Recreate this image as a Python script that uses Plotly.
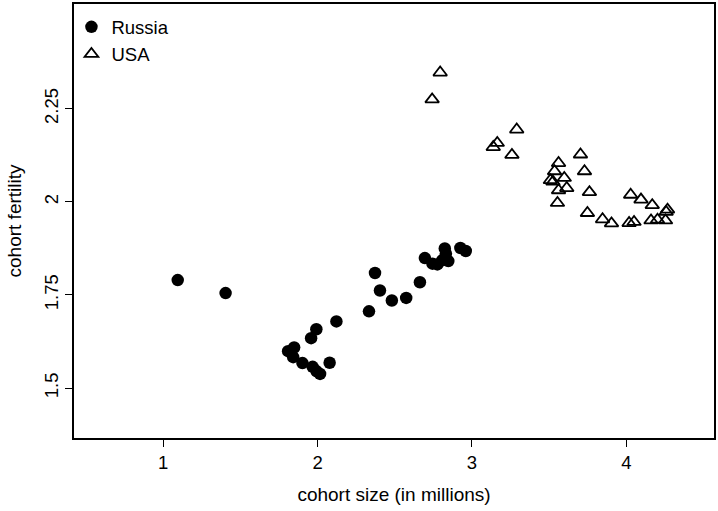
import plotly.graph_objects as go

# Cohort size (millions) and completed cohort fertility
russia_size = [1.094, 1.404, 2.372, 2.404, 2.481, 2.574, 2.663, 2.333, 2.122,
               1.992, 1.958, 1.848, 1.809, 1.842, 1.902, 1.968, 1.994, 2.016,
               2.078, 2.695, 2.744, 2.776, 2.807, 2.824, 2.831, 2.847, 2.925,
               2.960]
russia_fert = [1.790, 1.755, 1.809, 1.762, 1.735, 1.742, 1.784, 1.706, 1.679,
               1.658, 1.634, 1.609, 1.599, 1.583, 1.567, 1.557, 1.545, 1.538,
               1.568, 1.849, 1.834, 1.832, 1.843, 1.875, 1.861, 1.841, 1.876,
               1.868]

usa_size = [2.794, 2.742, 3.290, 3.164, 3.138, 3.259, 3.703, 3.561, 3.729,
            3.535, 3.598, 3.508, 3.525, 3.614, 3.561, 3.761, 3.554, 3.748,
            3.846, 3.904, 4.028, 4.095, 4.168, 4.267, 4.258, 4.018, 4.050,
            4.160, 4.202, 4.254]
usa_fert = [2.347, 2.275, 2.194, 2.158, 2.147, 2.126, 2.127, 2.104, 2.082,
            2.082, 2.064, 2.058, 2.054, 2.037, 2.031, 2.026, 1.997, 1.970,
            1.953, 1.942, 2.019, 2.006, 1.991, 1.979, 1.973, 1.943, 1.946,
            1.950, 1.952, 1.950]

x_ticks = [1, 2, 3, 4]
y_ticks = [1.5, 1.75, 2, 2.25]
y_tick_labels = ["1.5", "1.75", "2", "2.25"]

FONT = "Liberation Sans, Arial, sans-serif"
TICK_SIZE = 18.5
TITLE_SIZE = 19

fig = go.Figure()
fig.add_trace(go.Scatter(
    x=russia_size, y=russia_fert, mode="markers", name="Russia",
    marker=dict(symbol="circle", size=12.5, color="black",
                line=dict(width=0)),
))
fig.add_trace(go.Scatter(
    x=usa_size, y=usa_fert, mode="markers", name="USA",
    marker=dict(symbol="triangle-up-open", size=12, color="black",
                line=dict(width=1.8, color="black")),
))

axis_common = dict(
    showgrid=False, zeroline=False, showline=True, linecolor="black",
    linewidth=1.5, mirror=True, ticks="outside", ticklen=7, tickwidth=1,
    tickcolor="black", tickfont=dict(family=FONT, size=TICK_SIZE, color="black"),
)

fig.update_xaxes(
    range=[0.422, 4.568], tickvals=x_ticks, ticktext=[str(v) for v in x_ticks],
    title=dict(text="cohort size (in millions)", standoff=16,
               font=dict(family=FONT, size=TITLE_SIZE, color="black")),
    **axis_common,
)
fig.update_yaxes(
    range=[1.366, 2.531], tickvals=y_ticks, ticktext=y_tick_labels,
    tickangle=-90,
    title=dict(text="cohort fertility", standoff=14,
               font=dict(family=FONT, size=TITLE_SIZE, color="black")),
    **axis_common,
)

fig.update_layout(
    width=718, height=511,
    margin=dict(l=74, r=2, t=3, b=73),
    paper_bgcolor="white", plot_bgcolor="white",
    font=dict(family=FONT, size=TICK_SIZE, color="black"),
    legend=dict(x=-0.004, y=0.99, xanchor="left", yanchor="top",
                bgcolor="rgba(0,0,0,0)", borderwidth=0,
                font=dict(family=FONT, size=TICK_SIZE, color="black"),
                itemsizing="trace", tracegroupgap=0),
    showlegend=True,
)

fig.write_html("out.html")
